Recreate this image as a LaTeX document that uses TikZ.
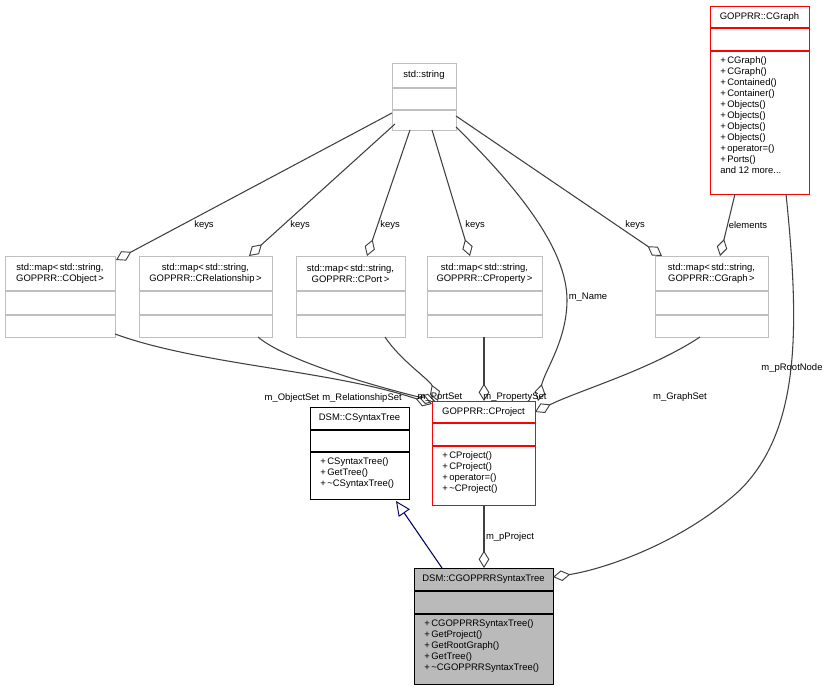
\documentclass[tikz,border=0pt]{standalone}
\usepackage{fontspec}
\setmainfont{Liberation Sans}
\usetikzlibrary{arrows.meta}
\newcommand{\umlbox}[9]{% name,x1,y1,x2,y2,ya,yb,draw,fill
  \node[draw=#8,fill=#9,line width=0.8pt,inner sep=0pt,minimum width={(#4-#2)*0.75pt},minimum height={(#5-#3)*0.75pt},anchor=north west] (#1) at (#2,#3) {};
  \draw[#8,line width=0.8pt] (#2,#6) -- (#4,#6) (#2,#7) -- (#4,#7);}
\begin{document}
\begin{tikzpicture}[x=0.75pt,y=-0.75pt,font=\fontsize{7.1}{8.3}\selectfont,
  agg/.style={draw=black!75,line width=0.8pt,-{Diamond[open,length=13pt,width=8pt,line width=0.7pt]}},
  inh/.style={draw=blue!40!black,line width=0.8pt,-{Triangle[open,length=11pt,width=10pt,line width=0.7pt]}},
  lbl/.style={inner sep=1pt},
  ttl/.style={inner sep=0pt,align=center},
  mth/.style={inner sep=0pt,anchor=north west,align=left}]
\useasboundingbox (0,0) rectangle (828,691);
% boxes
\umlbox{str}{392}{63}{456}{130}{88}{110}{black!25}{white}
\node[ttl] (strt) at (424,75.5) {std::string};
\umlbox{cg}{710}{6}{809}{194}{28}{51}{red}{white}
\node[ttl] (cgt) at (759.5,17) {GOPPRR::CGraph};
\node[mth] (cgm) at (720,56) {+\,CGraph()\\+\,CGraph()\\+\,Contained()\\+\,Container()\\+\,Objects()\\+\,Objects()\\+\,Objects()\\+\,Objects()\\+\,operator=()\\+\,Ports()\\and 12 more...};
\umlbox{mo}{5}{256}{115}{337}{291}{315}{black!25}{white}
\node[ttl] (mot) at (60,273.5) {std::map<\,std::string,\\GOPPRR::CObject\,>};
\umlbox{mr}{139}{256}{272}{337}{291}{315}{black!25}{white}
\node[ttl] (mrt) at (205.5,273.5) {std::map<\,std::string,\\GOPPRR::CRelationship\,>};
\umlbox{mp}{296}{256}{405}{337}{291}{315}{black!25}{white}
\node[ttl] (mpt) at (350.5,273.5) {std::map<\,std::string,\\GOPPRR::CPort\,>};
\umlbox{mq}{427}{256}{542}{337}{291}{315}{black!25}{white}
\node[ttl] (mqt) at (484.5,273.5) {std::map<\,std::string,\\GOPPRR::CProperty\,>};
\umlbox{mg}{655}{256}{768}{337}{291}{315}{black!25}{white}
\node[ttl] (mgt) at (711.5,273.5) {std::map<\,std::string,\\GOPPRR::CGraph\,>};
\umlbox{cp}{432}{401}{535}{505}{423}{446}{red}{white}
\node[ttl] (cpt) at (483.5,412) {GOPPRR::CProject};
\node[mth] (cpm) at (442,451) {+\,CProject()\\+\,CProject()\\+\,operator=()\\+\,\textasciitilde CProject()};
\umlbox{st}{310}{407}{409}{499}{430}{452}{black}{white}
\node[ttl] (stt) at (359.5,418.5) {DSM::CSyntaxTree};
\node[mth] (stm) at (320,457) {+\,CSyntaxTree()\\+\,GetTree()\\+\,\textasciitilde CSyntaxTree()};
\umlbox{gs}{414}{568}{553}{684}{591}{614}{black}{black!27}
\node[ttl] (gst) at (483.5,579.5) {DSM::CGOPPRRSyntaxTree};
\node[mth] (gsm) at (424,619) {+\,CGOPPRRSyntaxTree()\\+\,GetProject()\\+\,GetRootGraph()\\+\,GetTree()\\+\,\textasciitilde CGOPPRRSyntaxTree()};
% anchor coordinates
\coordinate (a1) at (392,113); \coordinate (d1) at (116,260);
\coordinate (a2) at (395,124); \coordinate (d2) at (249,256);
\coordinate (a3) at (410,130); \coordinate (d3) at (367,256);
\coordinate (a4) at (432,130); \coordinate (d4) at (470,256);
\coordinate (a5) at (456,116); \coordinate (d5) at (662,256);
\coordinate (a6) at (456,127); \coordinate (d6) at (538,401);
\coordinate (a7) at (735,194); \coordinate (d7) at (720,256);
\coordinate (a8) at (786,194); \coordinate (d8) at (553,577);
\coordinate (b1) at (115,334); \coordinate (e1) at (432,404);
\coordinate (b2) at (258,337); \coordinate (e2) at (435,401);
\coordinate (b3) at (385,337); \coordinate (e3) at (438,401);
\coordinate (b4) at (484,337); \coordinate (e4) at (484,401);
\coordinate (b5) at (700,337); \coordinate (e5) at (535,412);
\coordinate (c1) at (484,505); \coordinate (f1) at (484,568);
\coordinate (c2) at (442,568); \coordinate (f2) at (396,501);
% connectors
\draw[agg] (a1) -- (d1);
\draw[agg] (a2) -- (d2);
\draw[agg] (a3) -- (d3);
\draw[agg] (a4) -- (d4);
\draw[agg] (a5) -- (d5);
\draw[agg] (a6) .. controls (520,190) and (567,250) .. (567,300) .. controls (567,340) and (545,370) .. (d6);
\draw[agg] (a7) -- (d7);
\draw[agg] (a8) .. controls (800,330) and (800,430) .. (740,490) .. controls (680,545) and (600,570) .. (d8);
\draw[agg] (b1) .. controls (200,365) and (330,370) .. (e1);
\draw[agg] (b2) .. controls (285,360) and (370,385) .. (e2);
\draw[agg] (b3) .. controls (400,360) and (430,380) .. (e3);
\draw[agg] (b4) -- (e4);
\draw[agg] (b5) .. controls (650,370) and (580,390) .. (e5);
\draw[agg] (c1) -- (f1);
\draw[inh] (c2) -- (f2);
% labels
\node[lbl] (l1) at (204,225) {keys};
\node[lbl] (l2) at (300,225) {keys};
\node[lbl] (l3) at (390,225) {keys};
\node[lbl] (l4) at (475,225) {keys};
\node[lbl] (l5) at (635,225) {keys};
\node[lbl] (l6) at (588,297) {m\_Name};
\node[lbl] (l7) at (748,225) {elements};
\node[lbl] (l8) at (792,368) {m\_pRootNode};
\node[lbl] (l9) at (292,398) {m\_ObjectSet};
\node[lbl] (l10) at (362,398) {m\_RelationshipSet};
\node[lbl] (l11) at (440,397) {m\_PortSet};
\node[lbl] (l12) at (515,397) {m\_PropertySet};
\node[lbl] (l13) at (680,397) {m\_GraphSet};
\node[lbl] (l14) at (510,537) {m\_pProject};
\end{tikzpicture}
\end{document}
